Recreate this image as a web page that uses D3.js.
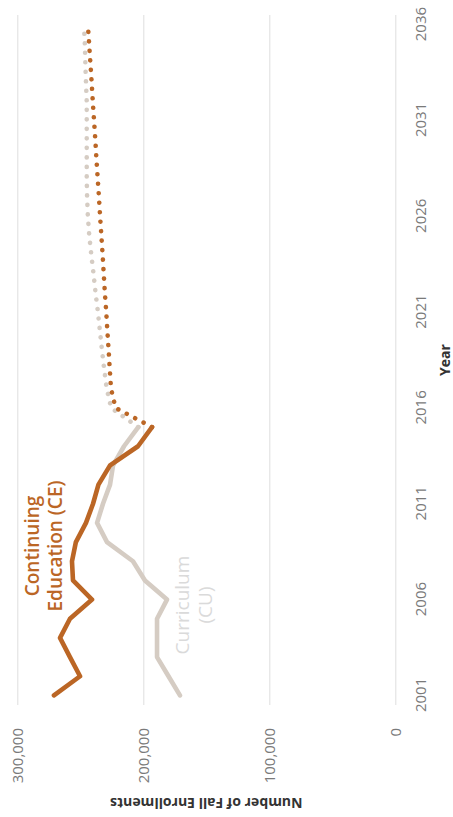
<!DOCTYPE html>
<html>
<head>
<meta charset="utf-8">
<script src="https://cdn.jsdelivr.net/npm/d3@7"></script>
<style>
  html, body { margin: 0; padding: 0; background: #fff; }
  svg { display: block; font-family: "Open Sans", sans-serif; }
</style>
</head>
<body>
<svg id="chart" width="453" height="817"></svg>
<script>
// Fall enrollments, actual (2001–2015) and projected (2015–2036)
const actualYears = [2001, 2002, 2003, 2004, 2005, 2006, 2007, 2008, 2009, 2010, 2011, 2012, 2013, 2014, 2015];
const ceActual = [270900, 250200, 258200, 266100, 258200, 240700, 255800, 256600, 253500, 245500, 239900, 235600, 226400, 204200, 193100];
const cuActual = [170900, 180000, 189100, 189100, 189100, 181200, 198700, 208200, 228800, 236700, 232000, 226400, 224000, 215300, 204000];

const projYears = [2015, 2016, 2017, 2018, 2019, 2020, 2021, 2022, 2023, 2024, 2025, 2026, 2027, 2028, 2029, 2030, 2031, 2032, 2033, 2034, 2035, 2036];
const ceProj = [193100, 222000, 225600, 226600, 227500, 228500, 229400, 230500, 231400, 232300, 233300, 234300, 235200, 236200, 237200, 238100, 239100, 240100, 241000, 242000, 243000, 244000];
const cuProj = [204000, 225500, 229000, 231000, 232800, 234400, 236000, 237900, 239500, 241300, 242900, 244000, 244600, 244900, 244900, 244900, 244900, 244900, 245500, 246000, 246400, 247100];

const yearTicks = [2001, 2006, 2011, 2016, 2021, 2026, 2031, 2036];
const valueTicks = [0, 100000, 200000, 300000];

const CE_COLOR = "#BB6625";
const CU_COLOR = "#D5CCC3";

// The chart is laid out landscape (817 x 453) and turned a quarter turn counter-clockwise.
const W = 817, H = 453;
const svg = d3.select("#chart");
const g = svg.append("g").attr("transform", `translate(0,${W}) rotate(-90)`);

const x = d3.scaleLinear().domain([2000.5, 2036.5]).range([112, 802]);
const y = d3.scaleLinear().domain([0, 300000]).range([395.3, 17.3]);

// value axis with gridlines
const yAxis = g.append("g")
  .attr("transform", `translate(${x.range()[0]},0)`)
  .call(d3.axisLeft(y).tickValues(valueTicks).tickFormat(d3.format(","))
    .tickSize(-(x.range()[1] - x.range()[0])).tickPadding(23));
yAxis.select(".domain").remove();
yAxis.selectAll(".tick line").attr("stroke", "#dedede").attr("stroke-width", 1);
yAxis.selectAll(".tick text")
  .attr("fill", "#7a7a7a").attr("font-size", 15).attr("font-family", "Open Sans");

// year axis
const xAxis = g.append("g")
  .attr("transform", `translate(0,${y(0)})`)
  .call(d3.axisBottom(x).tickValues(yearTicks).tickFormat(d3.format("d"))
    .tickSize(0).tickPadding(20));
xAxis.select(".domain").remove();
xAxis.selectAll(".tick text")
  .attr("fill", "#7a7a7a").attr("font-size", 15).attr("font-family", "Open Sans");

// axis titles
g.append("text")
  .attr("transform", `translate(14,${(y.range()[0] + y.range()[1]) / 2}) rotate(-90)`)
  .attr("text-anchor", "middle").attr("dy", "0.35em")
  .attr("font-size", 14).attr("font-weight", 700).attr("fill", "#333")
  .text("Number of Fall Enrollments");

g.append("text")
  .attr("x", (x.range()[0] + x.range()[1]) / 2).attr("y", 450)
  .attr("text-anchor", "middle")
  .attr("font-size", 14).attr("font-weight", 700).attr("fill", "#333")
  .text("Year");

const line = d3.line().x(d => x(d[0])).y(d => y(d[1]));

function drawSeries(years, values, color, dotted) {
  const path = g.append("path")
    .datum(years.map((yr, i) => [yr, values[i]]))
    .attr("d", line)
    .attr("fill", "none")
    .attr("stroke", color)
    .attr("stroke-width", 4.6)
    .attr("stroke-linejoin", "round")
    .attr("stroke-linecap", "round");
  if (dotted) path.attr("stroke-dasharray", "0.01 9.5");
}

drawSeries(projYears, cuProj, CU_COLOR, true);
drawSeries(actualYears, cuActual, CU_COLOR, false);
drawSeries(projYears, ceProj, CE_COLOR, true);
drawSeries(actualYears, ceActual, CE_COLOR, false);

// series labels
function label(cx, baselines, lines, color, weight) {
  const t = g.append("text")
    .attr("text-anchor", "middle")
    .attr("font-size", 19).attr("font-weight", weight).attr("fill", color);
  lines.forEach((s, i) => t.append("tspan").attr("x", cx).attr("y", baselines[i]).text(s));
}
label(271, [39, 62], ["Continuing", "Education (CE)"], CE_COLOR, 600);
label(212, [189, 212], ["Curriculum", "(CU)"], "#dadada", 400);
</script>
</body>
</html>
